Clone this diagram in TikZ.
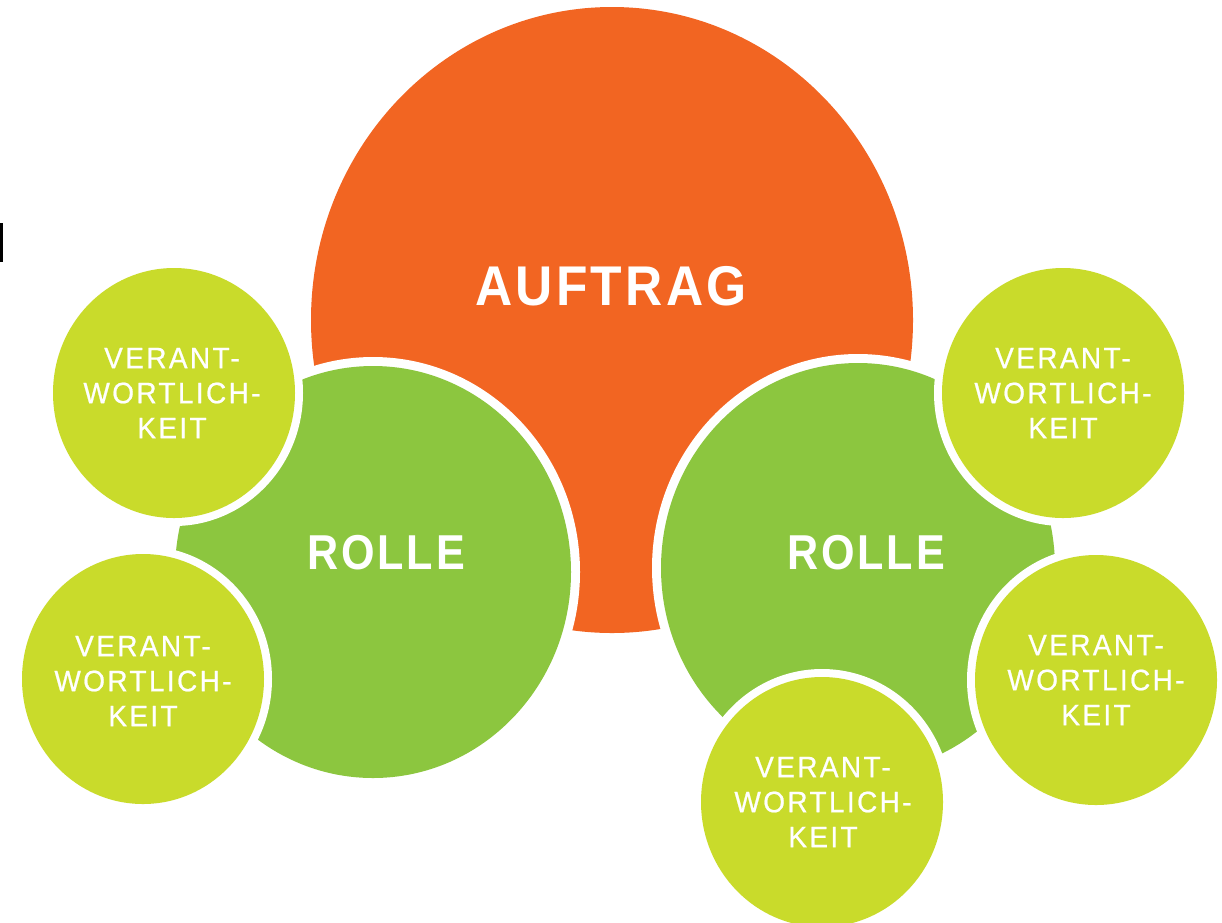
\documentclass[tikz,border=0pt]{standalone}
\usepackage{fontspec}
\setmainfont{Liberation Sans}
\newfontfamily\titlefont[LetterSpace=6,FakeStretch=0.92]{Liberation Sans}
\newfontfamily\rolefont[LetterSpace=6,FakeStretch=0.88]{Liberation Sans}
\newfontfamily\smallfont[LetterSpace=8,FakeStretch=0.95,FakeBold=0.7]{Liberation Sans}
\definecolor{orng}{RGB}{242,101,34}
\definecolor{rgreen}{RGB}{140,198,63}
\definecolor{ygreen}{RGB}{201,219,43}
\tikzset{
  bigtext/.style={text=white, inner sep=0pt, font=\titlefont\bfseries\fontsize{56}{60}\selectfont},
  roletext/.style={text=white, inner sep=0pt, font=\rolefont\bfseries\fontsize{49}{52}\selectfont},
  resptext/.style={text=white, inner sep=0pt, align=center, font=\smallfont\fontsize{29.5}{35}\selectfont},
  ringfill/.style={fill=white},
}
\begin{document}
\begin{tikzpicture}[x=1pt,y=-1pt]
\useasboundingbox (0,0) rectangle (1222,922);
\fill[white] (0,0) rectangle (1222,922);
\fill[black] (0,223) rectangle (3,262);
% main circle
\fill[orng] (612,320) ellipse [x radius=301pt, y radius=313pt];
% role circles
\fill[ringfill] (373,572) ellipse [x radius=207pt, y radius=215pt];
\fill[ringfill] (858,568) ellipse [x radius=206pt, y radius=214pt];
\fill[rgreen] (373,572) ellipse [x radius=198pt, y radius=206pt];
\fill[rgreen] (858,568) ellipse [x radius=197pt, y radius=205pt];
% responsibility circles
\foreach \cx/\cy in {174/393, 143/679, 1063/393, 1096/680, 822/802}{
  \fill[ringfill] (\cx,\cy) ellipse [x radius=129pt, y radius=133pt];
}
\foreach \cx/\cy in {174/393, 143/679, 1063/393, 1096/680, 822/802}{
  \fill[ygreen] (\cx,\cy) ellipse [x radius=121pt, y radius=125pt];
}
% texts
\node[bigtext] (auftrag) at (611,286) {AUFTRAG};
\node[roletext] (rolleL) at (386,553) {ROLLE};
\node[roletext] (rolleR) at (866,553) {ROLLE};
\node[resptext] (v1) at (172,393) {VERANT-\\WORTLICH-\\KEIT};
\node[resptext] (v2) at (143,681) {VERANT-\\WORTLICH-\\KEIT};
\node[resptext] (v3) at (1063,393) {VERANT-\\WORTLICH-\\KEIT};
\node[resptext] (v4) at (1096,680) {VERANT-\\WORTLICH-\\KEIT};
\node[resptext] (v5) at (823,802) {VERANT-\\WORTLICH-\\KEIT};
\end{tikzpicture}
\end{document}
